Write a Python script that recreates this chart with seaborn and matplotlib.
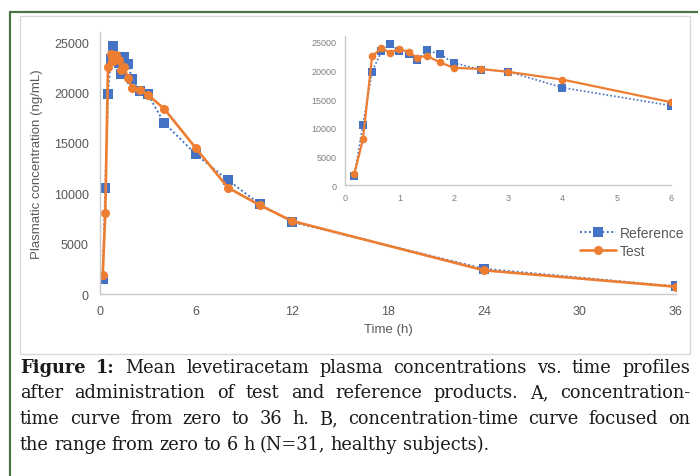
import matplotlib
matplotlib.use("Agg")
import matplotlib.pyplot as plt
from matplotlib.lines import Line2D
from matplotlib.patches import Rectangle
import numpy as np
import pandas as pd
import seaborn as sns

# mean plasma concentrations (ng/mL)
time_h = [0.17, 0.33, 0.5, 0.67, 0.83, 1, 1.17, 1.33, 1.5, 1.75, 2, 2.5, 3, 4, 6, 8, 10, 12, 24, 36]
reference = [1500, 10550, 19800, 23300, 24600, 23400, 22900, 21850, 23500, 22850,
             21300, 20150, 19800, 17000, 13850, 11300, 8900, 7150, 2500, 750]
test = [1900, 8000, 22500, 23850, 23100, 23750, 23200, 22200, 22550, 21400,
        20450, 20250, 19750, 18400, 14450, 10550, 8800, 7250, 2350, 720]

main_xticks = [0, 6, 12, 18, 24, 30, 36]
inset_xticks = [0, 1, 2, 3, 4, 5, 6]
yticks = [0, 5000, 10000, 15000, 20000, 25000]

caption = [
    [("Figure", True), ("1:", True), ("Mean", False), ("levetiracetam", False), ("plasma", False),
     ("concentrations", False), ("vs.", False), ("time", False), ("profiles", False)],
    [(w, False) for w in "after administration of test and reference products. A, concentration-".split()],
    [(w, False) for w in "time curve from zero to 36 h. B, concentration-time curve focused on".split()],
    [(w, False) for w in "the range from zero to 6 h (N=31, healthy subjects).".split()],
]

df = pd.DataFrame({"time": time_h, "Reference": reference, "Test": test})

BLUE = "#4472C4"
ORANGE = "#ED7D31"
TXT = "#595959"
W, H = 698, 477

sns.set_style("white")
plt.rcParams["font.family"] = ["Liberation Sans", "DejaVu Sans"]

fig = plt.figure(figsize=(W / 100, H / 100), dpi=100)


def fx(px):
    return px / W


def fy(py):
    return 1 - py / H


# frame decorations
fig.add_artist(Line2D([fx(10), 1], [fy(13), fy(13)], color="#4d7444", lw=1.6))
fig.add_artist(Line2D([fx(10), fx(10)], [fy(13), 0], color="#4d7444", lw=1.6))
fig.add_artist(Rectangle((fx(20), fy(355)), fx(690) - fx(20), fy(17) - fy(355),
                         fill=False, edgecolor="#d9d9d9", lw=1.0))


def draw_series(ax, ms_sq, ms_ci, lw_ref, lw_test):
    sns.lineplot(data=df, x="time", y="Reference", ax=ax, color=BLUE, marker="s",
                 markersize=ms_sq, markeredgewidth=0, linestyle=(0, (1, 1.3)), lw=lw_ref,
                 label="Reference")
    sns.lineplot(data=df, x="time", y="Test", ax=ax, color=ORANGE, marker="o",
                 markersize=ms_ci, markeredgewidth=0, lw=lw_test, label="Test")


def style_axes(ax, xticks, fs, color, pad):
    ax.set_ylim(0, 26000)
    ax.set_yticks(yticks)
    ax.set_yticklabels([str(v) for v in yticks])
    ax.set_xticks(xticks)
    ax.set_xticklabels([str(v) for v in xticks])
    ax.tick_params(length=0, labelsize=fs, labelcolor=color, pad=pad)
    for s in ["top", "right"]:
        ax.spines[s].set_visible(False)
    for s in ["left", "bottom"]:
        ax.spines[s].set_color("#c8c8c8")
        ax.spines[s].set_linewidth(1.0)
    ax.set_facecolor("none")


# main panel (0-36 h)
ax = fig.add_axes([fx(100), fy(295), fx(676) - fx(100), fy(33) - fy(295)])
draw_series(ax, 6.5, 6.5, 1.4, 1.9)
ax.set_xlim(0, 36)
style_axes(ax, main_xticks, 9, TXT, 8)
ax.set_xlabel("Time (h)", fontsize=9.5, color=TXT, labelpad=4)
ax.set_ylabel("Plasmatic concentration (ng/mL)", fontsize=9.5, color=TXT, labelpad=8)
leg = ax.legend(loc="center left", bbox_to_anchor=(fx(574), fy(243)), bbox_transform=fig.transFigure,
                frameon=False, fontsize=10, handlelength=2.6, handletextpad=0.3,
                labelspacing=0.25, borderaxespad=0, numpoints=1)
for t in leg.get_texts():
    t.set_color(TXT)

# inset panel (0-6 h)
axi = fig.add_axes([fx(345), fy(186), fx(671) - fx(345), fy(37) - fy(186)])
draw_series(axi, 5.5, 5.5, 1.2, 1.6)
axi.set_xlim(0, 6)
style_axes(axi, inset_xticks, 6.5, "#7f7f7f", 6)
axi.set_xlabel("")
axi.set_ylabel("")
axi.get_legend().remove()

# caption, justified like the journal text
renderer = fig.canvas.get_renderer()
x0, x1 = 20, 690
baselines = [373, 398, 424, 450]
fs = 12.8
for i, (words, yb) in enumerate(zip(caption, baselines)):
    texts = []
    for w, bold in words:
        t = fig.text(0, fy(yb), w, fontsize=fs, family="DejaVu Serif",
                     weight="bold" if bold else "normal", color="#1a1a1a", va="baseline")
        texts.append(t)
    widths = [t.get_window_extent(renderer).width for t in texts]
    if i < len(caption) - 1:
        gap = (x1 - x0 - sum(widths)) / (len(words) - 1)
    else:
        gap = fs * 1.389 * 0.3
    x = x0
    for t, wd in zip(texts, widths):
        t.set_x(fx(x))
        x += wd + gap

fig.savefig("out.png", dpi=100)
